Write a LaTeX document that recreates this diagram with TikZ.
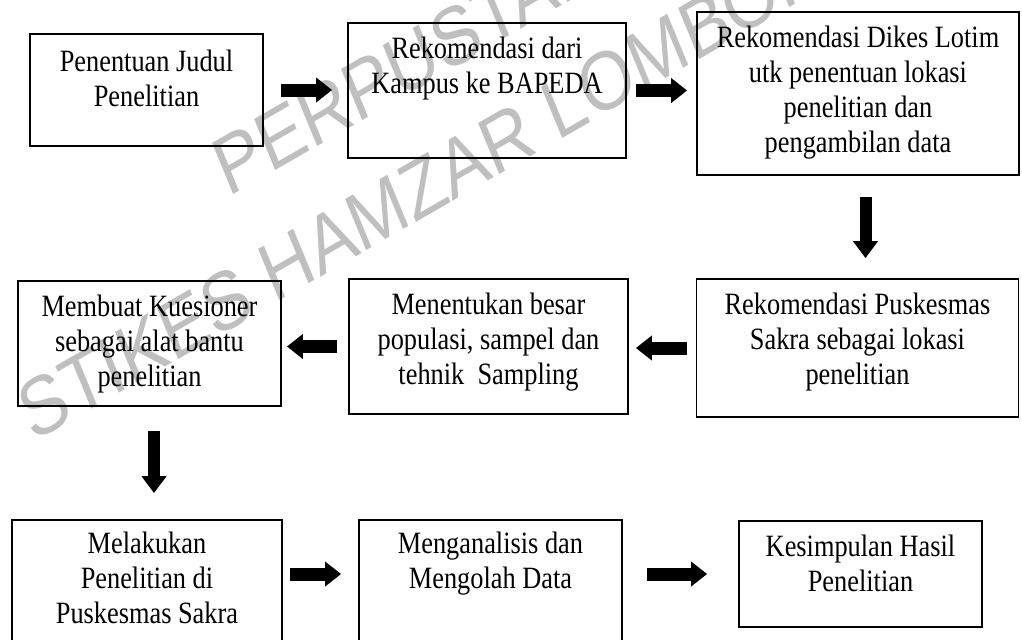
\documentclass[tikz,border=0pt]{standalone}
\usepackage{fontspec}
\setmainfont[FakeStretch=0.85]{Liberation Serif}
\newfontfamily\wmfont{Liberation Sans}
\usetikzlibrary{arrows.meta}
\begin{document}
\begin{tikzpicture}[x=0.5pt, y=-0.5pt,
  box/.style={draw=black, line width=0.9pt, inner sep=0pt},
  txt/.style={font=\fontsize{15.5}{17.5}\selectfont, align=center, inner sep=0pt, anchor=north},
  blockarrow/.style={line width=6.5pt, -{Triangle[length=8pt,width=12pt]}},
  varrow/.style={line width=6pt, -{Triangle[length=8.5pt,width=12pt]}},
  wm/.style={font=\wmfont\fontsize{35}{42}\selectfont, text=black!25, anchor=base west, inner sep=0pt, transform shape, rotate=26}]
\useasboundingbox (0,0) rectangle (1022,639);

% watermark (behind everything; page is stretched vertically)
\begin{scope}[shift={(228,198)}, yscale=1.18]
\node[wm] (wm1) at (0,0) {PERPUSTAKAAN};
\end{scope}
\begin{scope}[shift={(33,443)}, yscale=1.18]
\node[wm] (wm2) at (0,0) {STIKES HAMZAR LOMBOK};
\end{scope}

% boxes
\node[box, minimum width=116.5pt, minimum height=56pt]   (b1) at (146.5,90)  {};
\node[box, minimum width=139pt,   minimum height=67.5pt] (b2) at (487,90.5)  {};
\node[box, minimum width=161pt,   minimum height=81.5pt] (b3) at (858,93.5)  {};
\node[box, minimum width=131.5pt, minimum height=62.5pt] (b4) at (149.5,343.5) {};
\node[box, minimum width=139.5pt, minimum height=67.5pt] (b5) at (488.5,346.5) {};
\node[box, minimum width=161pt,   minimum height=69pt]   (b6) at (857.5,348) {};
\node[box, minimum width=135pt,   minimum height=70pt]   (b7) at (147,590)   {};
\node[box, minimum width=131.5pt, minimum height=70pt]   (b8) at (490.5,590) {};
\node[box, minimum width=121.5pt, minimum height=53pt]   (b9) at (860.5,574) {};

% texts
\node[txt] (t1) at ([yshift=-6.5pt]b1.north) {\strut Penentuan Judul\\Penelitian};
\node[txt] (t2) at ([yshift=-5.5pt]b2.north) {\strut Rekomendasi dari\\Kampus ke BAPEDA};
\node[txt] (t3) at ([yshift=-5.5pt]b3.north) {\strut Rekomendasi Dikes Lotim\\utk penentuan lokasi\\penelitian dan\\pengambilan data};
\node[txt] (t4) at ([yshift=-5.5pt]b4.north) {\strut Membuat Kuesioner\\sebagai alat bantu\\penelitian};
\node[txt] (t5) at ([yshift=-5.5pt]b5.north) {\strut Menentukan besar\\populasi, sampel dan\\tehnik\ \ Sampling};
\node[txt] (t6) at ([yshift=-5.5pt]b6.north) {\strut Rekomendasi Puskesmas\\Sakra sebagai lokasi\\penelitian};
\node[txt] (t7) at ([yshift=-4.5pt]b7.north) {\strut Melakukan\\Penelitian di\\Puskesmas Sakra};
\node[txt] (t8) at ([yshift=-4.5pt]b8.north) {\strut Menganalisis dan\\Mengolah Data};
\node[txt] (t9) at ([yshift=-5.5pt]b9.north) {\strut Kesimpulan Hasil\\Penelitian};

% arrows
\draw[blockarrow, shorten <=8.5pt, shorten >=7.5pt] (b1.east) -- (b1.east -| b2.west);
\draw[blockarrow, shorten <=4.5pt, shorten >=4.5pt] (b2.east) -- (b2.east -| b3.west);
\draw[varrow, shorten <=10.5pt, shorten >=10pt] ([xshift=3.75pt]b3.south) -- ([xshift=3.75pt]b3.south |- b6.north);
\draw[blockarrow, shorten <=4.5pt, shorten >=3.5pt] (b6.west) -- (b6.west -| b5.east);
\draw[blockarrow, shorten <=5.5pt, shorten >=2.5pt] (b5.west) -- (b5.west -| b4.east);
\draw[varrow, shorten <=12pt, shorten >=13pt] ([xshift=2.25pt]b4.south) -- ([xshift=2.25pt]b4.south |- b7.north);
\draw[blockarrow, shorten <=3.5pt, shorten >=8.5pt] (b7.east |- b9.west) -- (b8.west |- b9.west);
\draw[blockarrow, shorten <=12pt, shorten >=15.5pt] (b8.east |- b9.west) -- (b9.west);
\end{tikzpicture}
\end{document}
